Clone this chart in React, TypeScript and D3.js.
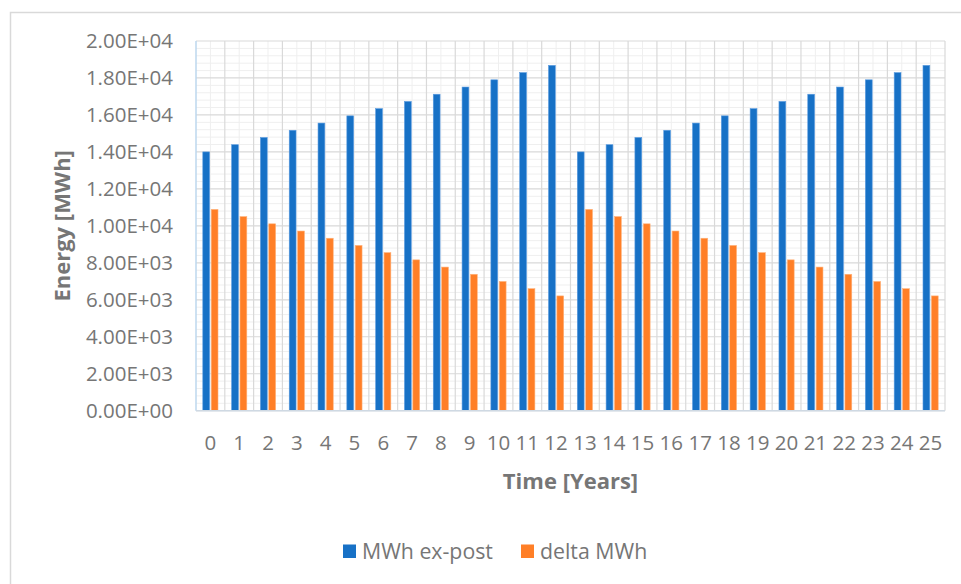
import React from "react";
import * as d3 from "d3";

const years: string[] = ["0","1","2","3","4","5","6","7","8","9","10","11","12","13","14","15","16","17","18","19","20","21","22","23","24","25"];
const mwhExPost: number[] = [14000,14390,14780,15170,15560,15950,16340,16730,17120,17510,17900,18290,18680,14000,14390,14780,15170,15560,15950,16340,16730,17120,17510,17900,18290,18680];
const deltaMwh: number[] = [10890,10500,10110,9720,9330,8940,8550,8160,7770,7380,6990,6600,6210,10890,10500,10110,9720,9330,8940,8550,8160,7770,7380,6990,6600,6210];
const yTicks: number[] = [0,2000,4000,6000,8000,10000,12000,14000,16000,18000,20000];
const seriesNames: string[] = ["MWh ex-post", "delta MWh"];

const W = 961, H = 584;
const plot = { left: 196, right: 945, top: 41, bottom: 410.7 };
const BLUE = "#1771C6";
const ORANGE = "#FF7F27";
const TEXT = "#767676";
const FONT = "'Open Sans', 'Noto Sans', sans-serif";

function sci(v: number): string {
  if (v === 0) return "0.00E+00";
  const e = Math.floor(Math.log10(Math.abs(v)));
  const m = v / Math.pow(10, e);
  const es = (e < 0 ? "-" : "+") + String(Math.abs(e)).padStart(2, "0");
  return m.toFixed(2) + "E" + es;
}

export default function App() {
  const x = d3.scaleBand<string>().domain(years).range([plot.left, plot.right]).paddingInner(0).paddingOuter(0);
  const y = d3.scaleLinear().domain([0, 20000]).range([plot.bottom, plot.top]);
  const bw = x.bandwidth();
  const barW = 6.8;
  const gap = 1.6;

  const minorY: number[] = [];
  for (let i = 0; i < yTicks.length - 1; i++) {
    const step = (yTicks[i + 1] - yTicks[i]) / 5;
    for (let k = 1; k < 5; k++) minorY.push(yTicks[i] + k * step);
  }

  return (
    <svg width={W} height={H} style={{ position: "absolute", left: 0, top: 0, background: "#fff" }} fontFamily={FONT}>
      <rect x={10.5} y={12.5} width={W} height={H} fill="#fff" stroke="#d9d9d9" strokeWidth={1.5} />
      {minorY.map((v, i) => (
        <line key={"mh" + i} x1={plot.left} x2={plot.right} y1={y(v)} y2={y(v)} stroke="#efefef" strokeWidth={1} />
      ))}
      {years.map((c) => (
        <line key={"mv" + c} x1={(x(c) as number) + bw / 2} x2={(x(c) as number) + bw / 2} y1={plot.top} y2={plot.bottom} stroke="#efefef" strokeWidth={1} />
      ))}
      {yTicks.map((v) => (
        <line key={"h" + v} x1={plot.left} x2={plot.right} y1={y(v)} y2={y(v)} stroke="#d9d9d9" strokeWidth={1.2} />
      ))}
      {years.map((c, i) => (i === 0 ? null :
        <line key={"v" + c} x1={x(c) as number} x2={x(c) as number} y1={plot.top} y2={plot.bottom} stroke="#d9d9d9" strokeWidth={1.2} />
      ))}
      <line x1={plot.right} x2={plot.right} y1={plot.top} y2={plot.bottom} stroke="#d9d9d9" strokeWidth={1.2} />
      {years.map((c, i) => {
        const cx = (x(c) as number) + bw / 2;
        return (
          <g key={"b" + c}>
            <rect x={cx - gap / 2 - barW} y={y(mwhExPost[i])} width={barW} height={plot.bottom - y(mwhExPost[i])} fill={BLUE} stroke="#5a9be0" strokeWidth={0.6} />
            <rect x={cx + gap / 2} y={y(deltaMwh[i])} width={barW} height={plot.bottom - y(deltaMwh[i])} fill={ORANGE} stroke="#ffb27a" strokeWidth={0.6} />
          </g>
        );
      })}
      <line x1={plot.left} x2={plot.left} y1={plot.top} y2={plot.bottom} stroke="#bdd7ee" strokeWidth={1.5} />
      <line x1={plot.left} x2={plot.right} y1={plot.bottom} y2={plot.bottom} stroke="#cfd9e3" strokeWidth={1.5} />
      {yTicks.map((v) => (
        <text key={"yt" + v} x={173} y={y(v)} dy="0.36em" textAnchor="end" fontSize={20.5} fill={TEXT}>{sci(v)}</text>
      ))}
      {years.map((c) => (
        <text key={"xt" + c} x={(x(c) as number) + bw / 2} y={443} dy="0.36em" textAnchor="middle" fontSize={20.5} fill={TEXT}>{c}</text>
      ))}
      <text x={(plot.left + plot.right) / 2} y={481} dy="0.36em" textAnchor="middle" fontSize={22} fontWeight="bold" fill={TEXT}>Time [Years]</text>
      <text transform={`translate(62,${(plot.top + plot.bottom) / 2}) rotate(-90)`} dy="0.36em" textAnchor="middle" fontSize={22} fontWeight="bold" fill={TEXT}>Energy [MWh]</text>
      <rect x={343} y={544.5} width={13} height={13.5} fill={BLUE} />
      <text x={362} y={551.5} dy="0.36em" fontSize={21.3} fill={TEXT}>{seriesNames[0]}</text>
      <rect x={521} y={544.5} width={13} height={13.5} fill={ORANGE} />
      <text x={540} y={551.5} dy="0.36em" fontSize={21.3} fill={TEXT}>{seriesNames[1]}</text>
    </svg>
  );
}
